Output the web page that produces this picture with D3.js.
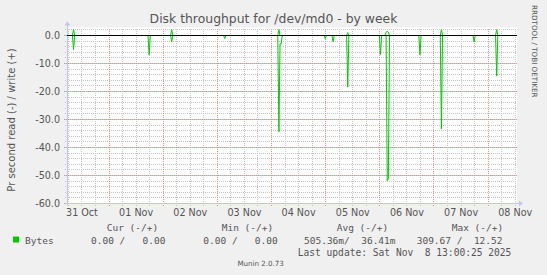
<!DOCTYPE html>
<html>
<head>
<meta charset="utf-8">
<script src="https://cdn.jsdelivr.net/npm/d3@7"></script>
<style>
html, body { margin: 0; padding: 0; background: #f0f0f0; }
svg { display: block; }
text { font-family: "DejaVu Sans", sans-serif; fill: #555; }
.mono { font-family: "DejaVu Sans Mono", monospace; white-space: pre; }
</style>
</head>
<body>
<svg id="chart" width="547" height="275"></svg>
<script>
"use strict";

// samples (30 min consolidation), read is drawn below zero, write above
var sampleTimes = [
    '2025-10-31T05:36',
    '2025-10-31T08:00', '2025-10-31T08:30', '2025-10-31T09:00',
    '2025-11-01T17:30', '2025-11-01T18:00', '2025-11-01T18:30',
    '2025-11-02T03:30', '2025-11-02T04:00', '2025-11-02T04:30',
    '2025-11-03T03:00', '2025-11-03T03:30', '2025-11-03T04:00',
    '2025-11-04T03:00', '2025-11-04T03:30', '2025-11-04T04:00', '2025-11-04T04:30', '2025-11-04T05:00',
    '2025-11-04T23:30', '2025-11-05T00:00', '2025-11-05T00:30',
    '2025-11-05T03:00', '2025-11-05T03:30', '2025-11-05T04:00',
    '2025-11-05T09:30', '2025-11-05T10:00', '2025-11-05T10:30',
    '2025-11-06T00:00', '2025-11-06T00:30', '2025-11-06T01:00',
    '2025-11-06T02:30', '2025-11-06T03:00', '2025-11-06T03:30', '2025-11-06T04:00', '2025-11-06T04:30',
    '2025-11-06T17:30', '2025-11-06T18:00', '2025-11-06T18:30',
    '2025-11-07T03:00', '2025-11-07T03:30', '2025-11-07T04:00',
    '2025-11-07T17:30', '2025-11-07T18:00', '2025-11-07T18:30',
    '2025-11-08T03:30', '2025-11-08T04:00', '2025-11-08T04:30',
    '2025-11-08T13:00'
];

var readValues = [
    0,
    0, 5.0, 0,
    0, 6.9, 0,
    0, 2.2, 0,
    0, 1.1, 0,
    0, 34.4, 3.0, 3.0, 0,
    0, 1.1, 0,
    0, 2.2, 0,
    0, 18.4, 0,
    0, 6.8, 0,
    0, 0, 51.9, 51.0, 0,
    0, 6.9, 0,
    0, 33.4, 0,
    0, 2.3, 0,
    0, 14.5, 0,
    0
];

var writeValues = [
    0,
    0, 2.1, 0,
    0, 0, 0,
    0, 2.1, 0,
    0, 0, 0,
    0, 2.1, 0, 0, 0,
    0, 0, 0,
    0, 0, 0,
    0, 1.0, 0,
    0, 0, 0,
    0, 1.2, 1.5, 1.2, 0,
    0, 0, 0,
    0, 2.1, 0,
    0, 0, 0,
    0, 2.1, 0,
    0
];

var timeRange = ['2025-10-31T05:36', '2025-11-08T13:00'];
var xLabelDays = ['2025-10-31T12:00', '2025-11-01T12:00', '2025-11-02T12:00', '2025-11-03T12:00',
    '2025-11-04T12:00', '2025-11-05T12:00', '2025-11-06T12:00', '2025-11-07T12:00', '2025-11-08T12:00'];
var yTicks = [0, -10, -20, -30, -40, -50, -60];
var yRange = [-60, 2.5];

var legendHeaders = ['Cur (-/+)', 'Min (-/+)', 'Avg (-/+)', 'Max (-/+)'];
var legendValues = ['0.00 /   0.00', '0.00 /   0.00', '505.36m/  36.41m', '309.67 /  12.52'];
var seriesName = 'Bytes';
var lastUpdate = 'Last update: Sat Nov  8 13:00:25 2025';

var drawChart = function drawChart() {
    var parse = d3.utcParse('%Y-%m-%dT%H:%M');
    var times = sampleTimes.map(parse);

    var svg = d3.select('#chart');

    var plotLeft = 67, plotRight = 517, plotTop = 28.5, plotBottom = 203.5;

    var x = d3.scaleUtc()
        .domain(timeRange.map(parse))
        .range([plotLeft, plotRight]);

    var y = d3.scaleLinear()
        .domain(yRange)
        .range([plotBottom, plotTop]);

    // canvas
    svg.append('rect')
        .attr('x', plotLeft)
        .attr('y', plotTop - 1)
        .attr('width', plotRight - plotLeft)
        .attr('height', plotBottom - plotTop + 1)
        .attr('fill', '#fff');

    var grid = svg.append('g').attr('shape-rendering', 'crispEdges');

    // minor grid: every 6 hours, every 2 units
    grid.selectAll('.vmin')
        .data(x.ticks(d3.utcHour.every(6)))
        .enter().append('line')
            .attr('x1', function (d) { return Math.round(x(d)) + 0.5; })
            .attr('x2', function (d) { return Math.round(x(d)) + 0.5; })
            .attr('y1', plotTop)
            .attr('y2', plotBottom + 2)
            .attr('stroke', '#c6c6c6')
            .attr('stroke-dasharray', '1,1');

    grid.selectAll('.hmin')
        .data(d3.range(-60, 2.5, 2))
        .enter().append('line')
            .attr('x1', plotLeft - 2)
            .attr('x2', plotRight)
            .attr('y1', function (d) { return y(d); })
            .attr('y2', function (d) { return y(d); })
            .attr('stroke', '#c6c6c6')
            .attr('stroke-dasharray', '1,1');

    // major grid: midnight, every 10 units
    grid.selectAll('.vmaj')
        .data(x.ticks(d3.utcDay))
        .enter().append('line')
            .attr('x1', function (d) { return Math.round(x(d)) + 0.5; })
            .attr('x2', function (d) { return Math.round(x(d)) + 0.5; })
            .attr('y1', plotTop)
            .attr('y2', plotBottom + 3)
            .attr('stroke', '#ec8c8c')
            .attr('stroke-dasharray', '1,1');

    grid.selectAll('.hmaj')
        .data(yTicks)
        .enter().append('line')
            .attr('x1', plotLeft - 3)
            .attr('x2', plotRight)
            .attr('y1', function (d) { return y(d); })
            .attr('y2', function (d) { return y(d); })
            .attr('stroke', '#ec8c8c')
            .attr('stroke-dasharray', '1,1');

    // axis lines with arrows
    var axisColor = '#c4c4f0';
    svg.append('line')
        .attr('x1', plotLeft + 0.5).attr('x2', plotLeft + 0.5)
        .attr('y1', plotBottom + 2).attr('y2', plotTop - 4)
        .attr('stroke', axisColor);
    svg.append('path')
        .attr('d', 'M' + (plotLeft - 2.5) + ',' + (plotTop - 3) + 'L' + (plotLeft + 0.5) + ',' + (plotTop - 7) +
            'L' + (plotLeft + 3.5) + ',' + (plotTop - 3) + 'Z')
        .attr('fill', axisColor);
    svg.append('line')
        .attr('x1', plotLeft - 2).attr('x2', plotRight + 3)
        .attr('y1', plotBottom).attr('y2', plotBottom)
        .attr('stroke', axisColor);
    svg.append('path')
        .attr('d', 'M' + (plotRight + 2) + ',' + (plotBottom - 3) + 'L' + (plotRight + 6) + ',' + plotBottom +
            'L' + (plotRight + 2) + ',' + (plotBottom + 3) + 'Z')
        .attr('fill', axisColor);

    // tick labels
    var yAxis = d3.axisLeft(y)
        .tickValues(yTicks)
        .tickSize(0)
        .tickPadding(7)
        .tickFormat(function (d) { return d.toFixed(1); });

    var gy = svg.append('g')
        .attr('transform', 'translate(' + plotLeft + ',0)')
        .call(yAxis);
    gy.select('.domain').remove();
    gy.selectAll('text')
        .attr('font-family', '"DejaVu Sans", sans-serif')
        .attr('font-size', '9.6px')
        .attr('fill', '#555')
        .attr('dy', '0.36em');

    var xAxis = d3.axisBottom(x)
        .tickValues(xLabelDays.map(parse))
        .tickSize(0)
        .tickPadding(6)
        .tickFormat(d3.utcFormat('%d %b'));

    var gx = svg.append('g')
        .attr('transform', 'translate(0,' + plotBottom + ')')
        .call(xAxis);
    gx.select('.domain').remove();
    gx.selectAll('text')
        .attr('font-family', '"DejaVu Sans", sans-serif')
        .attr('font-size', '9.6px')
        .attr('fill', '#555');

    // series
    var readLine = d3.line()
        .x(function (d, i) { return x(times[i]); })
        .y(function (d) { return y(-d); });
    var writeLine = d3.line()
        .x(function (d, i) { return x(times[i]); })
        .y(function (d) { return y(d); });

    svg.append('path')
        .attr('d', readLine(readValues))
        .attr('fill', 'none')
        .attr('stroke', '#00cc00')
        .attr('stroke-width', 1);
    svg.append('path')
        .attr('d', writeLine(writeValues))
        .attr('fill', 'none')
        .attr('stroke', '#00cc00')
        .attr('stroke-width', 1);

    // zero line
    svg.append('line')
        .attr('x1', plotLeft)
        .attr('x2', plotRight)
        .attr('y1', y(0))
        .attr('y2', y(0))
        .attr('stroke', '#000')
        .attr('stroke-width', 1);

    // titles
    svg.append('text')
        .attr('x', 273.5)
        .attr('y', 23)
        .attr('text-anchor', 'middle')
        .attr('font-size', '12.4px')
        .attr('fill', '#555')
        .text('Disk throughput for /dev/md0 - by week');

    svg.append('text')
        .attr('transform', 'translate(15,120) rotate(-90)')
        .attr('text-anchor', 'middle')
        .attr('font-size', '10px')
        .text('Pr second read (-) / write (+)');

    svg.append('text')
        .attr('transform', 'translate(532,5) rotate(90)')
        .attr('font-size', '7.2px')
        .attr('fill', '#d2d2d2')
        .text('RRDTOOL / TOBI OETIKER');

    // legend
    var headerX = [106.7, 221.7, 336.7, 451.7];
    var valueX = [91, 203.3, 304, 416.7];

    svg.selectAll('.lh')
        .data(legendHeaders)
        .enter().append('text')
            .attr('class', 'mono')
            .attr('x', function (d, i) { return headerX[i]; })
            .attr('y', 231)
            .attr('font-size', '9.5px')
            .text(function (d) { return d; });

    svg.append('rect')
        .attr('x', 13)
        .attr('y', 236.5)
        .attr('width', 6)
        .attr('height', 6)
        .attr('fill', '#00cc00');

    svg.append('text')
        .attr('class', 'mono')
        .attr('x', 25)
        .attr('y', 243.5)
        .attr('font-size', '9.5px')
        .text(seriesName);

    svg.selectAll('.lv')
        .data(legendValues)
        .enter().append('text')
            .attr('class', 'mono')
            .attr('x', function (d, i) { return valueX[i]; })
            .attr('y', 243.5)
            .attr('font-size', '9.5px')
            .text(function (d) { return d; });

    svg.append('text')
        .attr('class', 'mono')
        .attr('x', 297.7)
        .attr('y', 255.5)
        .attr('font-size', '9.6px')
        .text(lastUpdate);

    svg.append('text')
        .attr('x', 260.7)
        .attr('y', 266)
        .attr('text-anchor', 'middle')
        .attr('font-size', '7.1px')
        .attr('fill', '#bbb')
        .text('Munin 2.0.73');
};

drawChart();
</script>
</body>
</html>
